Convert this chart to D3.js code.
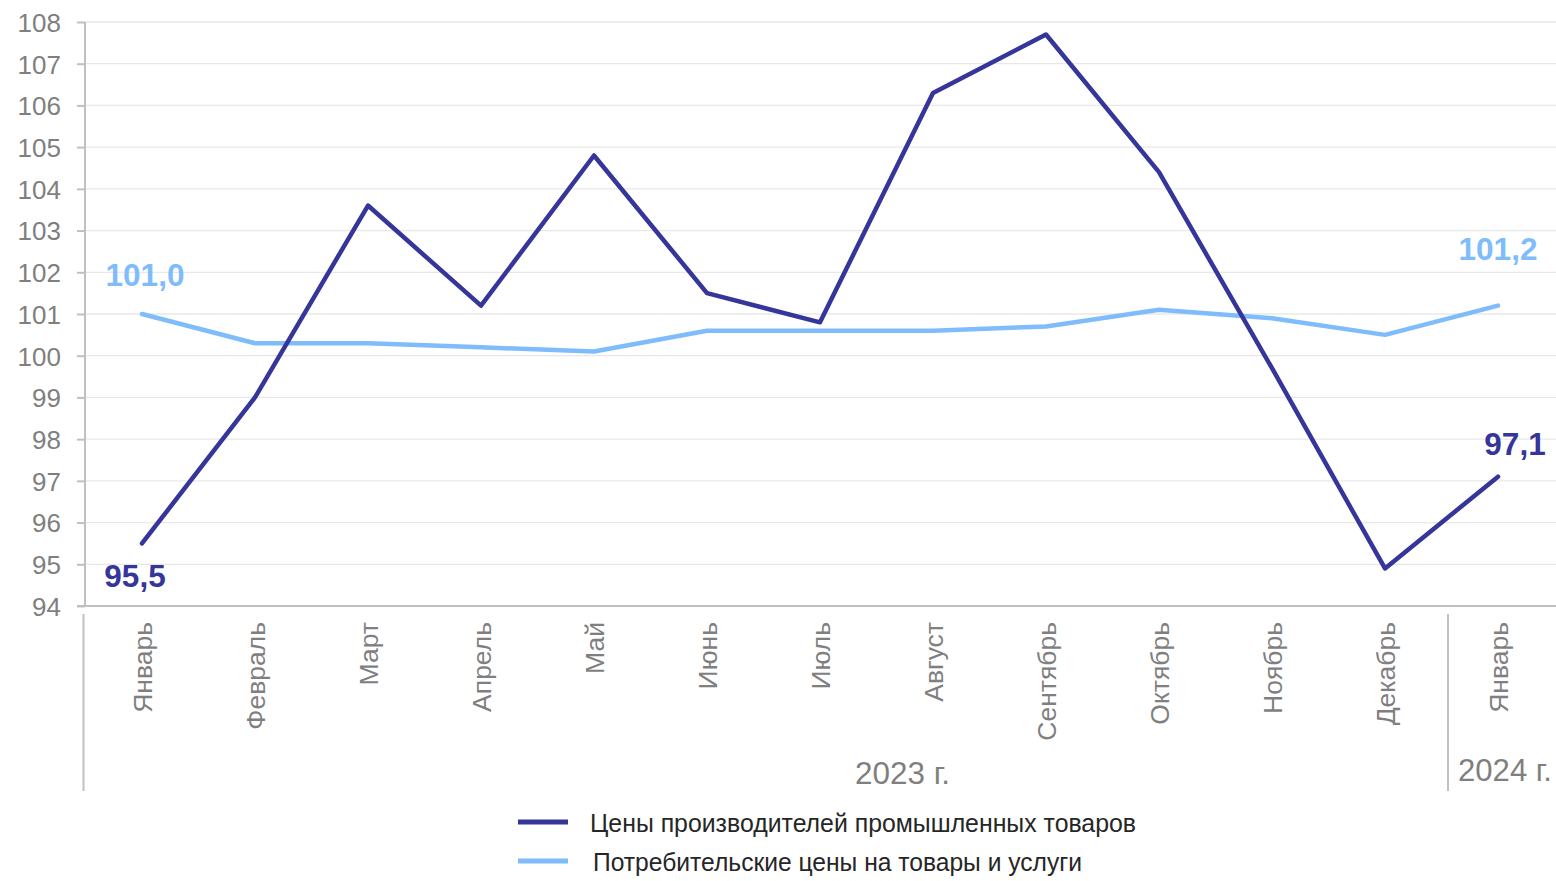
<!DOCTYPE html>
<html><head><meta charset="utf-8">
<script src="https://cdn.jsdelivr.net/npm/d3@7"></script>
<style>html,body{margin:0;padding:0;background:#fff;}svg{display:block;}</style>
</head><body>
<svg id="c" width="1556" height="881"></svg>
<script>
const months = ["Январь","Февраль","Март","Апрель","Май","Июнь","Июль","Август","Сентябрь","Октябрь","Ноябрь","Декабрь","Январь"];
const years = [{label:"2023 г.", from:0, to:11},{label:"2024 г.", from:12, to:12}];
const ppi = [95.5, 99.0, 103.6, 101.2, 104.8, 101.5, 100.8, 106.3, 107.7, 104.4, 99.7, 94.9, 97.1];
const cpi = [101.0, 100.3, 100.3, 100.2, 100.1, 100.6, 100.6, 100.6, 100.7, 101.1, 100.9, 100.5, 101.2];
const yTicks = d3.range(94, 109, 1);
const seriesNames = ["Цены производителей промышленных товаров","Потребительские цены на товары и услуги"];
const colors = ["#35359a", "#7fbcfb"];

const svg = d3.select("#c");
const x = d3.scalePoint().domain(d3.range(months.length)).range([142, 1498]);
const step = x.step();
const y = d3.scaleLinear().domain([94,108]).range([606,22]);
const plotL = 85, plotR = 1556;
const axisCol = "#c0c0c0", textCol = "#7f7f7f";
const fmt = v => v.toFixed(1).replace(".", ",");
const font = "Liberation Sans, Arial, sans-serif";

// grid
svg.append("g").selectAll("line").data(yTicks.filter(t=>t>94)).join("line")
  .attr("x1", plotL).attr("x2", plotR).attr("y1", d=>y(d)).attr("y2", d=>y(d))
  .attr("stroke", "#e8e8e8").attr("stroke-width", 1.3);

// y axis
const ya = svg.append("g").attr("transform", `translate(${plotL},0)`)
  .call(d3.axisLeft(y).tickValues(yTicks).tickSize(8).tickPadding(16).tickFormat(d3.format("d")));
ya.select(".domain").attr("stroke", axisCol).attr("stroke-width", 2).attr("d", `M0,22V606`);
ya.selectAll(".tick line").attr("stroke", axisCol).attr("stroke-width", 2);
ya.selectAll(".tick text").attr("fill", textCol).attr("font-family", font).attr("font-size", 26).attr("dy", "0.36em");

// x axis line
svg.append("line").attr("x1", 77).attr("x2", plotR).attr("y1", 606).attr("y2", 606)
  .attr("stroke", axisCol).attr("stroke-width", 2);

// group separators
const seps = [x(0) - step/2 - 2, x(12) - step/2 + 6.5];
svg.append("g").selectAll("line").data(seps).join("line")
  .attr("x1", d=>d).attr("x2", d=>d).attr("y1", 614).attr("y2", 791)
  .attr("stroke", axisCol).attr("stroke-width", 2);

// month labels
svg.append("g").selectAll("text").data(months).join("text")
  .attr("transform", (d,i)=>`translate(${x(i)},622) rotate(-90)`)
  .attr("dy", "0.36em").attr("text-anchor", "end")
  .attr("fill", textCol).attr("font-family", font).attr("font-size", 26.5)
  .text(d=>d);

// year labels
svg.append("g").selectAll("text").data(years).join("text")
  .attr("x", (d,i)=> i===0 ? 902.5 : 1505)
  .attr("y", (d,i)=> i===0 ? 784 : 781)
  .attr("text-anchor", "middle").attr("fill", textCol)
  .attr("font-family", font).attr("font-size", 31)
  .attr("textLength", (d,i)=> i===0 ? 95 : 94).attr("lengthAdjust", "spacingAndGlyphs")
  .text(d=>d.label);

// lines
const line = d3.line().x((d,i)=>x(i)).y(d=>y(d));
[cpi, ppi].forEach((s, k) => {
  const c = k===0 ? colors[1] : colors[0];
  svg.append("path").datum(s).attr("d", line).attr("fill", "none")
    .attr("stroke", c).attr("stroke-width", 4.5).attr("stroke-linejoin", "round").attr("stroke-linecap", "round");
});

// data labels
const lab = [
  {v: cpi[0], i:0, dx: 3, dy: -28, c: colors[1]},
  {v: ppi[0], i:0, dx: -7, dy: 44, c: colors[0]},
  {v: cpi[12], i:12, dx: 0, dy: -46, c: colors[1]},
  {v: ppi[12], i:12, dx: 17, dy: -22, c: colors[0]}
];
svg.append("g").selectAll("text").data(lab).join("text")
  .attr("x", d=>x(d.i)+d.dx).attr("y", d=>y(d.v)+d.dy)
  .attr("text-anchor", "middle").attr("fill", d=>d.c)
  .attr("font-family", font).attr("font-weight", "bold").attr("font-size", 31.5)
  .text(d=>fmt(d.v));

// legend
const lg = svg.append("g");
seriesNames.forEach((n, k) => {
  const yy = k===0 ? 822 : 861;
  lg.append("line").attr("x1", 518).attr("x2", 568).attr("y1", yy).attr("y2", yy)
    .attr("stroke", colors[k]).attr("stroke-width", 5);
  lg.append("text").attr("x", k===0 ? 590 : 593).attr("y", yy + 10)
    .attr("fill", "#262626").attr("font-family", font)
    .attr("font-size", 26)
    .attr("textLength", k===0 ? 546 : 489).attr("lengthAdjust", "spacingAndGlyphs")
    .text(n);
});
</script>
</body></html>
